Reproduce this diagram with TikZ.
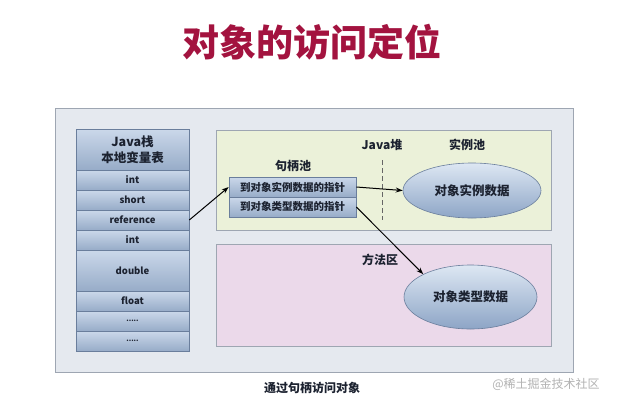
\documentclass[tikz,border=0pt]{standalone}
\usepackage{fontspec}
\setmainfont{Noto Sans CJK SC}
\usetikzlibrary{shapes.geometric,arrows.meta}
\definecolor{titlered}{HTML}{A3133F}
\definecolor{panelbg}{HTML}{E5E9EF}
\definecolor{panelline}{HTML}{9EA6B2}
\definecolor{heapbg}{HTML}{EBF1D9}
\definecolor{methodbg}{HTML}{EBD9EA}
\definecolor{celltop}{HTML}{CBD8EA}
\definecolor{cellbot}{HTML}{97ACC8}
\definecolor{cellline}{HTML}{6A7E9C}
\definecolor{elltop}{HTML}{DDE7F3}
\definecolor{ellbot}{HTML}{8DA5C6}
\definecolor{ink}{HTML}{1C2230}
\tikzset{
  stackcell/.style={draw=cellline, line width=0.6pt, top color=celltop, bottom color=cellbot,
    minimum width=113pt, minimum height=20pt, inner sep=0pt, font=\bfseries\fontsize{9.5}{11}\selectfont, text=ink},
  handlecell/.style={draw=cellline, line width=0.7pt, top color=celltop, bottom color=cellbot,
    minimum width=127pt, minimum height=20pt, inner sep=0pt, font=\bfseries\fontsize{10.5}{12}\selectfont, text=ink},
  region/.style={draw=panelline, line width=0.8pt, inner sep=0pt},
  blob/.style={ellipse, draw=cellline, line width=0.6pt, top color=elltop, bottom color=ellbot,
    inner sep=0pt, font=\bfseries\fontsize{12.5}{14}\selectfont, text=ink},
  lbl/.style={font=\bfseries\fontsize{12}{14}\selectfont, text=ink, inner sep=0pt},
  ptr/.style={-{Stealth[length=7pt,width=5pt]}, line width=1pt, black}
}
\begin{document}
\begin{tikzpicture}[x=1pt,y=-1pt]
\useasboundingbox (0,0) rectangle (618,408);
\fill[white] (0,0) rectangle (618,408);
% title
\node[font=\bfseries\fontsize{37}{40}\selectfont, text=titlered, inner sep=0pt] (title) at (312,42) {对象的访问定位};
% outer panel
\node[region, fill=panelbg, minimum width=518pt, minimum height=264pt] (outer) at (314,240) {};
% heap and method area
\node[region, fill=heapbg, minimum width=335pt, minimum height=100pt] (heap) at (383.5,180) {};
\node[region, fill=methodbg, minimum width=335pt, minimum height=102pt] (method) at (383.5,295) {};
% stack column
\node[stackcell, minimum height=41pt, font=\bfseries\fontsize{12.5}{16}\selectfont, align=center] (hdr) at (132.5,149.5) {Java栈\\本地变量表};
\node[stackcell] (s1) at (132.5,180) {int};
\node[stackcell] (s2) at (132.5,200) {short};
\node[stackcell] (ref) at (132.5,220) {reference};
\node[stackcell] (s4) at (132.5,240) {int};
\node[stackcell, minimum height=41pt] (s5) at (132.5,270.5) {double};
\node[stackcell] (s6) at (132.5,301) {float};
\node[stackcell, font=\bfseries\fontsize{7}{8}\selectfont] (s7) at (132.5,321) {.....};
\node[stackcell, font=\bfseries\fontsize{7}{8}\selectfont] (s8) at (132.5,341) {.....};
% handle pool
\node[lbl] (poollbl) at (293,166) {句柄池};
\node[handlecell] (h1) at (292.5,187) {到对象实例数据的指针};
\node[handlecell] (h2) at (292.5,207) {到对象类型数据的指针};
% heap labels
\node[lbl] (heaplbl) at (382,145) {Java堆};
\node[lbl] (instlbl) at (467,145) {实例池};
\coordinate (dtop) at (382,160);
\coordinate (dbot) at (382,220);
\draw[dashed, dash pattern=on 5pt off 3pt, line width=0.6pt, black!60] (dtop) -- (dbot);
\node[blob, minimum width=138pt, minimum height=55pt] (e1) at (472,190.5) {对象实例数据};
% method area
\node[lbl] (methlbl) at (380,260) {方法区};
\node[blob, minimum width=133pt, minimum height=64pt] (e2) at (470.5,297) {对象类型数据};
% arrows
\draw[ptr] (ref.east) -- (h1.west);
\draw[ptr] (h1.east) -- (e1.west);
\draw[ptr] (h2.east) -- (e2.north west);
% caption and watermark
\node[font=\bfseries\fontsize{12}{14}\selectfont, text=ink, inner sep=0pt] (cap) at (312,388) {通过句柄访问对象};
\node[font=\fontsize{12}{14}\selectfont, text=black!30, inner sep=0pt] (wm) at (546,384) {@稀土掘金技术社区};
\end{tikzpicture}
\end{document}
